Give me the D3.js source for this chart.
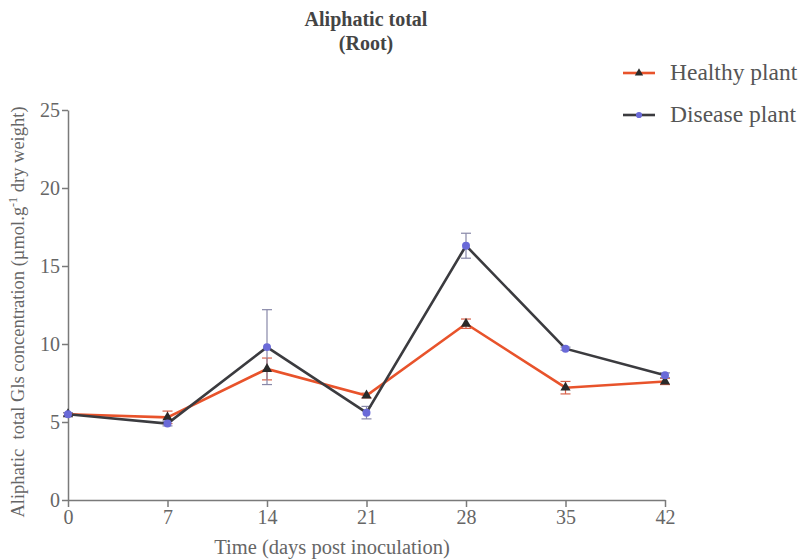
<!DOCTYPE html>
<html>
<head>
<meta charset="utf-8">
<script src="https://cdn.jsdelivr.net/npm/d3@7"></script>
<style>
  body { margin: 0; background: #fff; }
  svg text { font-family: "Liberation Serif", "DejaVu Serif", serif !important; }
</style>
</head>
<body>
<div id="chart"></div>
<script>
// days post inoculation
const days = [0, 7, 14, 21, 28, 35, 42];
// healthy plant (mean, error)
const healthy = [5.5, 5.3, 8.4, 6.7, 11.3, 7.2, 7.6];
const healthyErr = [0.1, 0.4, 0.7, 0.15, 0.3, 0.4, 0.2];
// disease plant (mean, error)
const disease = [5.5, 4.9, 9.8, 5.6, 16.3, 9.7, 8.0];
const diseaseErr = [0.1, 0.15, 2.4, 0.4, 0.8, 0.1, 0.15];
const yTicks = [0, 5, 10, 15, 20, 25];

const width = 802, height = 559;
const margin = {top: 110, right: 137, bottom: 59, left: 68};

const svg = d3.select("#chart").append("svg")
    .attr("width", width)
    .attr("height", height);

const x = d3.scaleLinear().domain([0, 42]).range([margin.left, width - margin.right]);
const y = d3.scaleLinear().domain([0, 25]).range([height - margin.bottom, margin.top]);

const axisColor = "#7a7a7a";

// x axis
const xAxis = svg.append("g")
    .attr("transform", "translate(0," + y(0) + ")")
    .call(d3.axisBottom(x).tickValues(days).tickSize(7).tickPadding(3).tickSizeOuter(0));
xAxis.select(".domain").attr("stroke", axisColor).attr("stroke-width", 1.5);
xAxis.selectAll(".tick line").attr("stroke", axisColor).attr("stroke-width", 1.5);
xAxis.selectAll(".tick text")
    .attr("fill", "#666")
    .style("font-size", "20px");

// y axis
const yAxis = svg.append("g")
    .attr("transform", "translate(" + x(0) + ",0)")
    .call(d3.axisLeft(y).tickValues(yTicks).tickSize(6).tickPadding(2).tickSizeOuter(0));
yAxis.select(".domain").attr("stroke", axisColor).attr("stroke-width", 1.5);
yAxis.selectAll(".tick line").attr("stroke", axisColor).attr("stroke-width", 1.5);
yAxis.selectAll(".tick text")
    .attr("fill", "#666")
    .style("font-size", "20px");

// axis titles
svg.append("text")
    .attr("x", 332)
    .attr("y", 554)
    .attr("text-anchor", "middle")
    .attr("fill", "#666")
    .style("font-size", "20.5px")
    .text("Time (days post inoculation)");

const yl = svg.append("text")
    .attr("transform", "translate(24," + 312 + ") rotate(-90)")
    .attr("text-anchor", "middle")
    .attr("fill", "#666")
    .style("font-size", "18.5px");
yl.append("tspan").text("Aliphatic\u00a0\u00a0total Gls concentration (\u00b5mol.g");
yl.append("tspan").attr("dy", -7).style("font-size", "12px").text("-1");
yl.append("tspan").attr("dy", 7).text(" dry weight)");

// title
svg.append("text")
    .attr("x", 366).attr("y", 26)
    .attr("text-anchor", "middle")
    .attr("fill", "#444")
    .style("font-size", "20px").style("font-weight", "bold")
    .text("Aliphatic total");
svg.append("text")
    .attr("x", 366).attr("y", 50)
    .attr("text-anchor", "middle")
    .attr("fill", "#444")
    .style("font-size", "20px").style("font-weight", "bold")
    .text("(Root)");

const series = [
    {name: "Healthy plant", values: healthy, err: healthyErr, line: "#e8532b", errColor: "#d9624a", marker: "triangle", mColor: "#2a2a2a"},
    {name: "Disease plant", values: disease, err: diseaseErr, line: "#3b3b3f", errColor: "#8888a8", marker: "circle", mColor: "#6a6ad8"}
];

const line = d3.line().x((d, i) => x(days[i])).y(d => y(d));

// error bars
series.forEach(s => {
    const g = svg.append("g").attr("stroke", s.errColor).attr("stroke-width", 1.2);
    s.values.forEach((v, i) => {
        const cx = x(days[i]);
        g.append("line").attr("x1", cx).attr("x2", cx).attr("y1", y(v - s.err[i])).attr("y2", y(v + s.err[i]));
        g.append("line").attr("x1", cx - 5).attr("x2", cx + 5).attr("y1", y(v + s.err[i])).attr("y2", y(v + s.err[i]));
        g.append("line").attr("x1", cx - 5).attr("x2", cx + 5).attr("y1", y(v - s.err[i])).attr("y2", y(v - s.err[i]));
    });
});

// lines (disease drawn last, on top)
series.forEach(s => {
    svg.append("path")
        .datum(s.values)
        .attr("fill", "none")
        .attr("stroke", s.line)
        .attr("stroke-width", 2.6)
        .attr("d", line);
});

function drawMarker(sel, s, cx, cy, size) {
    if (s.marker === "triangle") {
        sel.append("path")
            .attr("d", d3.symbol().type(d3.symbolTriangle).size(size)())
            .attr("transform", "translate(" + cx + "," + cy + ")")
            .attr("fill", s.mColor);
    } else {
        sel.append("circle").attr("cx", cx).attr("cy", cy).attr("r", Math.sqrt(size / Math.PI))
            .attr("fill", s.mColor);
    }
}

series.forEach(s => {
    const g = svg.append("g");
    s.values.forEach((v, i) => drawMarker(g, s, x(days[i]), y(v), s.marker === "triangle" ? 45 : 50));
});

// legend
series.forEach((s, i) => {
    const ly = 73 + i * 42;
    svg.append("line")
        .attr("x1", 623).attr("x2", 655).attr("y1", ly).attr("y2", ly)
        .attr("stroke", s.line).attr("stroke-width", 2.6);
    drawMarker(svg, s, 639, ly, 30);
    svg.append("text")
        .attr("x", 670).attr("y", ly + 7)
        .attr("fill", "#555")
        .style("font-size", "23.5px")
        .text(s.name);
});
</script>
</body>
</html>
